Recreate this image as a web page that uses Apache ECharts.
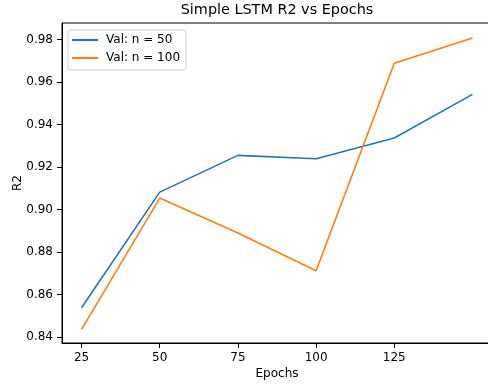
<!DOCTYPE html>
<html>
<head>
<meta charset="utf-8">
<script src="https://cdn.jsdelivr.net/npm/echarts@6/dist/echarts.min.js"></script>
<style>html,body{margin:0;padding:0;background:#fff}#c{width:488px;height:385px}</style>
</head>
<body>
<div id="c"></div>
<script>
var epochs = [25, 50, 75, 100, 125, 150];
var valN50 = [0.8538, 0.9082, 0.9255, 0.9239, 0.9337, 0.9542];
var valN100 = [0.8436, 0.9054, 0.8890, 0.8712, 0.9689, 0.9807];
var xTicks = [25, 50, 75, 100, 125];
var yTicks = [0.84, 0.86, 0.88, 0.90, 0.92, 0.94, 0.96, 0.98];
var seriesNames = ['Val: n = 50', 'Val: n = 100'];

function pairs(xs, ys){ return xs.map(function(x,i){ return [x, ys[i]]; }); }

var font = 'DejaVu Sans';
var fs = 12;
var chart = echarts.init(document.getElementById('c'), null, {renderer:'canvas'});
chart.setOption({
  animation: false,
  backgroundColor: '#fff',
  title: {
    text: 'Simple LSTM R2 vs Epochs',
    left: 277, top: 3, textAlign: 'center', padding: 0,
    textStyle: {fontFamily: font, fontSize: 14.4, fontWeight: 'normal', color: '#000'}
  },
  legend: {
    orient: 'vertical', left: 68, top: 30,
    padding: [4, 6, 6, 4],
    itemGap: 6, itemWidth: 26, itemHeight: 12,
    backgroundColor: 'rgba(255,255,255,0.8)',
    borderColor: '#cccccc', borderWidth: 1, borderRadius: 3,
    textStyle: {fontFamily: font, fontSize: fs, color: '#000', padding:[0,0,0,3]},
    data: seriesNames.map(function(n){ return {name: n, icon: 'path://M0,0L26,0L26,2L0,2Z'}; })
  },
  grid: {
    left: 62, top: 23, right: -4, bottom: 42,
    outerBoundsMode: 'none', containLabel: false,
    show: true, borderColor: '#000', borderWidth: 1
  },
  xAxis: {
    type: 'value', min: 18.75, max: 156.25,
    splitLine: {show: false},
    axisLine: {show: true, lineStyle: {color: '#000', width: 1}},
    axisTick: {show: true, length: 5, lineStyle: {color: '#000'}, customValues: xTicks},
    axisLabel: {fontFamily: font, fontSize: fs, color: '#000', margin: 9, customValues: xTicks},
    name: 'Epochs', nameLocation: 'middle', nameGap: 25, nameMoveOverlap: false,
    nameTextStyle: {fontFamily: font, fontSize: fs, color: '#000'}
  },
  yAxis: {
    type: 'value', min: 0.8372, max: 0.9878,
    splitLine: {show: false},
    axisLine: {show: true, lineStyle: {color: '#000', width: 1}},
    axisTick: {show: true, length: 5, lineStyle: {color: '#000'}, customValues: yTicks},
    axisLabel: {fontFamily: font, fontSize: fs, color: '#000', margin: 9, customValues: yTicks,
      formatter: function(v){ return v.toFixed(2); }},
    name: 'R2', nameLocation: 'middle', nameGap: 38, nameRotate: 90, nameMoveOverlap: false,
    nameTextStyle: {fontFamily: font, fontSize: fs, color: '#000'}
  },
  series: [
    {name: seriesNames[0], type: 'line', data: pairs(epochs, valN50), symbol: 'none',
     lineStyle: {color: '#1f77b4', width: 1.6}, itemStyle: {color: '#1f77b4'}},
    {name: seriesNames[1], type: 'line', data: pairs(epochs, valN100), symbol: 'none',
     lineStyle: {color: '#ff7f0e', width: 1.6}, itemStyle: {color: '#ff7f0e'}}
  ]
});
</script>
</body>
</html>
